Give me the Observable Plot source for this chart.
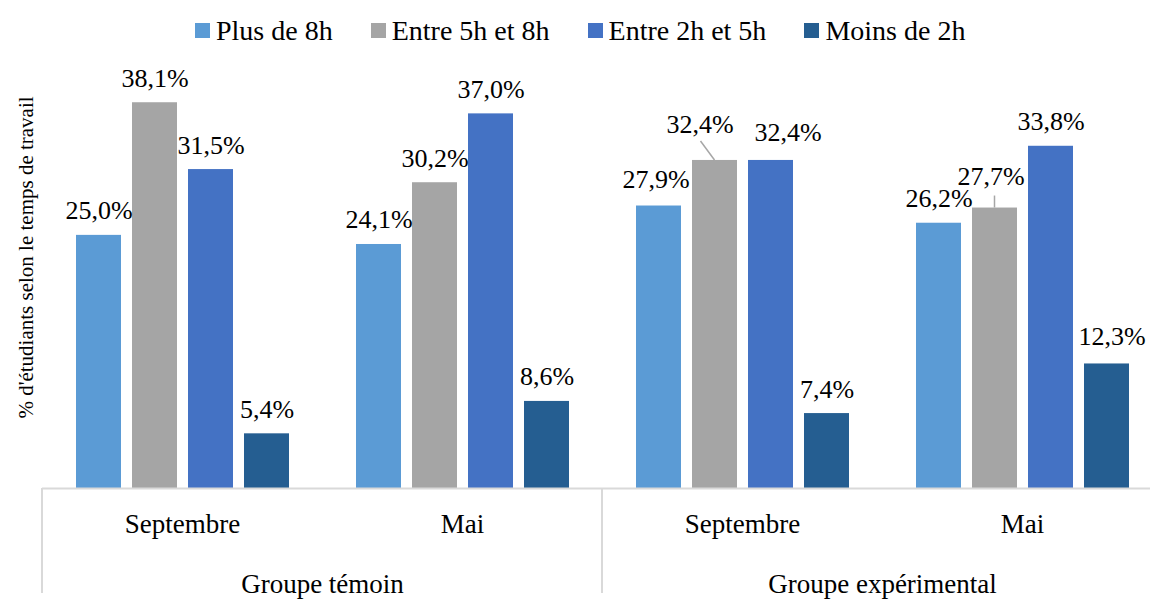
<!DOCTYPE html>
<html>
<head>
<meta charset="utf-8">
<script src="https://cdn.jsdelivr.net/npm/d3@7"></script>
<script src="https://cdn.jsdelivr.net/npm/@observablehq/plot@0.6"></script>
<style>
html, body { margin: 0; padding: 0; background: #fff; overflow: hidden; width: 1150px; height: 602px; }
#legend { height: 50px; box-sizing: border-box; padding-top: 11px; padding-left: 195px; display: flex; align-items: center;
  font-family: "Liberation Serif", "Times New Roman", Tinos, "DejaVu Serif", serif; font-size: 28px; color: #000; white-space: nowrap; }
#legend .item { display: flex; align-items: center; margin-right: 38px; }
#legend .sw { width: 15px; height: 15px; margin-right: 6px; flex: none; }
#chart { width: 1162px; }
#chart svg { max-width: none !important; display: block; }
</style>
</head>
<body>
<div id="legend"></div>
<div id="chart"></div>
<script>
// ---- data ----
const groups = ["Groupe témoin", "Groupe expérimental"];
const periods = ["Septembre", "Mai"];
const series = ["Plus de 8h", "Entre 5h et 8h", "Entre 2h et 5h", "Moins de 2h"];
const colors = ["#5B9BD5", "#A5A5A5", "#4472C4", "#255E91"];
const temoinSeptembre = [25.0, 38.1, 31.5, 5.4];
const temoinMai = [24.1, 30.2, 37.0, 8.6];
const experimentalSeptembre = [27.9, 32.4, 32.4, 7.4];
const experimentalMai = [26.2, 27.7, 33.8, 12.3];
const yTitle = "% d'étudiants selon le temps de travail";

// label placement adjustments (pixels) for labels moved in the original
const labelNudges = [
  {group: "Groupe expérimental", period: "Septembre", series: "Plus de 8h", dx: -3, dy: -18},
  {group: "Groupe expérimental", period: "Septembre", series: "Entre 5h et 8h", dx: -15, dy: -27},
  {group: "Groupe expérimental", period: "Septembre", series: "Entre 2h et 5h", dx: 17, dy: -19},
  {group: "Groupe expérimental", period: "Mai", series: "Entre 5h et 8h", dx: -4, dy: -23},
  {group: "Groupe expérimental", period: "Mai", series: "Moins de 2h", dx: 5, dy: -19}
];
// leader lines: offset of the label end from the bar top centre (pixels)
const leaders = [
  {group: "Groupe expérimental", period: "Septembre", series: "Entre 5h et 8h", ex: -14, ey: -19},
  {group: "Groupe expérimental", period: "Mai", series: "Entre 5h et 8h", ex: 0, ey: -12}
];

// ---- table ----
const valueTable = [[temoinSeptembre, temoinMai], [experimentalSeptembre, experimentalMai]];
const rows = [];
groups.forEach((g, gi) => periods.forEach((p, pi) => series.forEach((s, si) => {
  rows.push({group: g, period: p, key: g + "|" + p, series: s, value: valueTable[gi][pi][si]});
})));
const keys = Array.from(new Set(rows.map(d => d.key)));
const fmt = v => v.toFixed(1).replace(".", ",") + "%";
const idOf = d => d.group + "|" + d.period + "|" + d.series;
const nudged = new Set(labelNudges.map(idOf));

// ---- legend ----
const legend = document.getElementById("legend");
series.forEach((s, i) => {
  const item = document.createElement("div");
  item.className = "item";
  const sw = document.createElement("span");
  sw.className = "sw";
  sw.style.background = colors[i];
  const t = document.createElement("span");
  t.textContent = s;
  item.append(sw, t);
  legend.append(item);
});

const FONT = '"Liberation Serif", "Times New Roman", Tinos, "DejaVu Serif", serif';
const labelBase = {x: "series", y: "value", text: d => fmt(d.value), lineAnchor: "bottom", fontSize: 26, fill: "#000"};

const chart = Plot.plot({
  width: 1162,
  height: 552,
  marginLeft: 42,
  marginRight: 0,
  marginTop: 33,
  marginBottom: 114,
  style: {fontFamily: FONT, fontSize: "26px", color: "#000", background: "transparent", overflow: "visible", maxWidth: "none"},
  facet: {data: rows, x: "key"},
  fx: {domain: keys, padding: 0, axis: null, label: null},
  x: {domain: series, paddingInner: 0.2, paddingOuter: 0.6, axis: null, label: null},
  y: {domain: [0, 40], axis: null},
  color: {domain: series, range: colors},
  marks: [
    Plot.barY(rows, {x: "series", y: "value", fill: "series"}),
    Plot.ruleY([0], {stroke: "#d9d9d9", strokeWidth: 2}),
    Plot.text(rows, {...labelBase, filter: d => !nudged.has(idOf(d)), dy: -16}),
    ...labelNudges.map(n => Plot.text(rows, {...labelBase, filter: d => idOf(d) === idOf(n), dx: n.dx, dy: n.dy})),
    Plot.text(rows, {filter: d => d.series === series[0], frameAnchor: "bottom", text: "period", lineAnchor: "bottom", dy: 44, fontSize: 27, fill: "#000"}),
    Plot.text(rows, {filter: d => d.series === series[0] && d.period === periods[1], frameAnchor: "bottom-left", textAnchor: "middle", text: "group", lineAnchor: "bottom", dy: 104, fontSize: 27, fill: "#000"})
  ]
});
chart.setAttribute("font-family", FONT);
document.getElementById("chart").append(chart);

// ---- decorations using the plot's scales ----
const svg = d3.select(chart);
const fxS = chart.scale("fx"), xS = chart.scale("x"), yS = chart.scale("y");
const y0 = yS.apply(0);
const deco = svg.append("g");
const divX = groups.map(g => fxS.apply(g + "|" + periods[0]));
divX.push(fxS.apply(keys[keys.length - 1]) + fxS.bandwidth);
divX.forEach(x => {
  deco.append("line").attr("x1", x).attr("x2", x).attr("y1", y0).attr("y2", y0 + 105)
    .attr("stroke", "#d9d9d9").attr("stroke-width", 2);
});
const xr0 = Math.min(...xS.range);
leaders.forEach(l => {
  const d = rows.find(r => idOf(r) === idOf(l));
  const cx = fxS.apply(d.key) + (xS.apply(d.series) - xr0) + xS.bandwidth / 2;
  const top = yS.apply(d.value);
  deco.append("line").attr("x1", cx).attr("y1", top).attr("x2", cx + l.ex).attr("y2", top + l.ey)
    .attr("stroke", "#a6a6a6").attr("stroke-width", 1.5);
});
svg.append("text")
  .attr("transform", `translate(33, ${(yS.apply(40) + y0) / 2 - 28}) rotate(-90)`)
  .attr("text-anchor", "middle")
  .attr("font-family", FONT)
  .attr("font-size", 21)
  .attr("fill", "#000")
  .text(yTitle);
</script>
</body>
</html>
